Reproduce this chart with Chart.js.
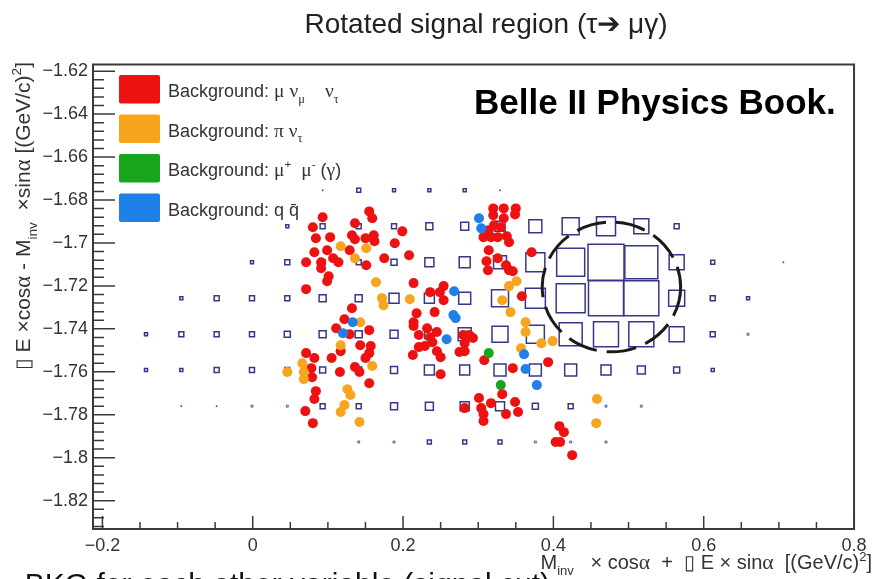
<!DOCTYPE html>
<html>
<head>
<meta charset="utf-8">
<script src="https://cdn.jsdelivr.net/npm/chart.js@4.4.1/dist/chart.umd.min.js"></script>
<style>
html, body { margin: 0; padding: 0; background: #fff; }
#c { display: block; }
</style>
</head>
<body>
<canvas id="c" width="881" height="579"></canvas>
<script>
// axis ticks (ROOT style labels)
const xTicks = [-0.2, 0, 0.2, 0.4, 0.6, 0.8];
const yTicks = [-1.62, -1.64, -1.66, -1.68, -1.7, -1.72, -1.74, -1.76, -1.78, -1.8, -1.82];

// 2D histogram bins (box option): bin centres and contents per row
const xBinCenters = [-0.142, -0.095, -0.048, -0.001, 0.046, 0.093, 0.141, 0.188, 0.235, 0.282,
                     0.329, 0.376, 0.423, 0.470, 0.517, 0.564, 0.612, 0.659, 0.706];
const yBinCenters = [-1.6755, -1.6922, -1.7090, -1.7257, -1.7425, -1.7592, -1.7760, -1.7927];
const binRow0 = [0, 0, 0, 0, 0, 0.08, 1.2, 0.7, 0.7, 0.7, 0.08, 0, 0, 0, 0, 0, 0, 0, 0];
const binRow1 = [0, 0, 0, 0, 0.7, 1.9, 1.9, 1.9, 3.8, 4.9, 7.7, 13, 22.3, 27.9, 17.4, 1.9, 0, 0, 0];
const binRow2 = [0, 0, 0, 0.7, 1.9, 1.9, 1.9, 2.8, 6.3, 9.3, 13, 27.9, 60.5, 100, 84, 17.4, 1.2, 0, 0.08];
const binRow3 = [0, 0.7, 1.9, 1.9, 1.9, 3.8, 3.8, 7.7, 7.7, 11.1, 22.3, 30.9, 64.9, 94.5, 94.5, 19.8, 1.9, 0.7, 0];
const binRow4 = [0.7, 1.9, 1.9, 1.9, 2.8, 3.8, 3.8, 4.9, 6.3, 13, 19.8, 25, 40.8, 48.2, 48.2, 17.4, 1.9, 0.3, 0];
const binRow5 = [0.7, 0.7, 1.9, 1.9, 1.9, 2.8, 2.8, 3.8, 7.7, 7.7, 11.1, 11.1, 11.1, 7.7, 4.9, 2.8, 0.7, 0, 0];
const binRow6 = [0, 0.08, 0.08, 0.3, 0.3, 1.9, 1.9, 3.8, 4.9, 6.3, 6.3, 2.8, 1.9, 0.3, 0.3, 0, 0, 0, 0];
const binRow7 = [0, 0, 0, 0, 0, 0, 0.3, 0.3, 1.2, 1.2, 1.2, 0.3, 0.3, 0.3, 0, 0, 0, 0, 0];
const binRows = [binRow0, binRow1, binRow2, binRow3, binRow4, binRow5, binRow6, binRow7];

// background events
const muNuNuX = [0.093, 0.080, 0.084, 0.103, 0.082, 0.099, 0.071, 0.091, 0.091, 0.107, 0.114, 0.101, 0.099, 0.071,
  0.122, 0.111, 0.117, 0.071, 0.082, 0.105, 0.078, 0.079, 0.116, 0.084, 0.082, 0.070, 0.080,
  0.155, 0.159, 0.136, 0.132, 0.136, 0.150, 0.161, 0.162, 0.199, 0.189, 0.129, 0.151, 0.175, 0.208,
  0.132, 0.155, 0.143, 0.157, 0.155, 0.150, 0.136, 0.142, 0.155, 0.129,
  0.214, 0.254, 0.249, 0.236, 0.254, 0.242, 0.218, 0.214, 0.214, 0.232, 0.221, 0.245, 0.236, 0.229,
  0.221, 0.239, 0.213, 0.245, 0.250, 0.280, 0.288, 0.293, 0.282, 0.282, 0.275, 0.250, 0.282,
  0.320, 0.334, 0.350, 0.320, 0.334, 0.349, 0.321, 0.330, 0.314, 0.307, 0.317, 0.326, 0.338, 0.341,
  0.314, 0.326, 0.311, 0.313, 0.337, 0.341, 0.346, 0.371, 0.358, 0.393, 0.346, 0.308,
  0.332, 0.301, 0.317, 0.304, 0.307, 0.307, 0.337, 0.349, 0.353,
  0.408, 0.414, 0.403, 0.409, 0.425];
const muNuNuY = [-1.6880, -1.6927, -1.6978, -1.6973, -1.7043, -1.7034, -1.7090, -1.7090, -1.7118, -1.7071, -1.7090, -1.7155, -1.7178, -1.7215,
  -1.7355, -1.7397, -1.7504, -1.7513, -1.7536, -1.7536, -1.7583, -1.7625, -1.7601, -1.7690, -1.7727, -1.7783, -1.7839,
  -1.6853, -1.6885, -1.6908, -1.6964, -1.6983, -1.6978, -1.6964, -1.6992, -1.6946, -1.7001, -1.7034, -1.7104, -1.7071, -1.7057,
  -1.7304, -1.7406, -1.7476, -1.7480, -1.7513, -1.7536, -1.7578, -1.7601, -1.7653, -1.7425,
  -1.7187, -1.7201, -1.7229, -1.7229, -1.7267, -1.7322, -1.7327, -1.7369, -1.7387, -1.7397, -1.7429, -1.7415, -1.7439, -1.7480,
  -1.7485, -1.7462, -1.7522, -1.7504, -1.7532, -1.7429, -1.7429, -1.7443, -1.7467, -1.7504, -1.7508, -1.7611, -1.7769,
  -1.6839, -1.6839, -1.6839, -1.6871, -1.6885, -1.6867, -1.6918, -1.6927, -1.6941, -1.6973, -1.6973, -1.6973, -1.6969, -1.6997,
  -1.7034, -1.7071, -1.7085, -1.7127, -1.7104, -1.7127, -1.7132, -1.7043, -1.7248, -1.7555, -1.7583, -1.7546,
  -1.7704, -1.7722, -1.7746, -1.7769, -1.7797, -1.7829, -1.7797, -1.7741, -1.7787,
  -1.7853, -1.7881, -1.7927, -1.7927, -1.7988];

const piNuX = [0.117, 0.151, 0.136, 0.164, 0.172, 0.174, 0.209, 0.143, 0.117, 0.159, 0.126, 0.130, 0.122, 0.117, 0.142,
  0.046, 0.066, 0.068, 0.068, 0.341, 0.351, 0.332, 0.343, 0.363, 0.363, 0.384, 0.399, 0.357, 0.458, 0.457];
const piNuY = [-1.7015, -1.7025, -1.7071, -1.7183, -1.7257, -1.7290, -1.7262, -1.7369, -1.7476, -1.7573, -1.7681, -1.7708, -1.7755, -1.7787, -1.7834,
  -1.7601, -1.7560, -1.7601, -1.7634, -1.7201, -1.7178, -1.7267, -1.7322, -1.7369, -1.7415, -1.7467, -1.7457, -1.7490, -1.7727, -1.7839];

const mumuX = [0.314, 0.330];
const mumuY = [-1.7513, -1.7662];

const qqX = [0.301, 0.304, 0.268, 0.267, 0.270, 0.258, 0.133, 0.120, 0.361, 0.363, 0.378];
const qqY = [-1.6885, -1.6932, -1.7225, -1.7336, -1.7350, -1.7448, -1.7369, -1.7420, -1.7518, -1.7587, -1.7662];

// legend entries (_ subscript, ^ superscript)
const legendLabels = ['Background: μ ν_{μ}    ν_{τ}', 'Background: π ν_{τ}', 'Background: μ^{+}  μ^{-} (γ)', 'Background: q q\u0304'];
const legendColors = ['#ee1111', '#f7a51e', '#16a51c', '#1f80ea'];

// signal region ellipse (data units)
const signalCenter = [0.4772, -1.7205];
const signalRadius = [0.0921, 0.0302];

const plotTitle = 'Rotated signal region (τ\u2794 μγ)';
const xTitle = 'M_{inv}   × cosα  +  \u25AF E × sinα  [(GeV/c)^{2}]';
const yTitle = '\u25AF E ×cosα - M_{inv}  ×sinα [(GeV/c)^{2}]';

Chart.defaults.font.family = '"Liberation Sans", Arial, sans-serif';

const boxData = [];
binRows.forEach((row, j) => {
  row.forEach((c, i) => { if (c > 0) boxData.push({x: xBinCenters[i], y: yBinCenters[j], c: c}); });
});
const maxBoxSide = 36;
function boxSide(c) { return maxBoxSide * Math.sqrt(c / 100); }

function toPoints(xs, ys) { return xs.map((x, i) => ({x: x, y: ys[i]})); }

// tiny rich text helper for sub/superscripts
function parseRich(str) {
  const segs = [];
  let i = 0;
  while (i < str.length) {
    const c = str[i];
    if ((c === '_' || c === '^') && i + 1 < str.length) {
      const mode = c === '_' ? -1 : 1;
      i++;
      let txt;
      if (str[i] === '{') { const j = str.indexOf('}', i); txt = str.slice(i + 1, j); i = j + 1; }
      else { txt = str[i]; i++; }
      for (const ch of txt) segs.push({ch: ch, mode: mode});
      continue;
    }
    if (/[\u0300-\u036f]/.test(c) && segs.length) segs[segs.length - 1].ch += c;
    else segs.push({ch: c, mode: 0});
    i++;
  }
  return segs;
}
function richFont(seg, size) {
  let s = seg.mode ? size * 0.65 : size;
  const greek = /[\u0370-\u03ff]/.test(seg.ch);
  if (greek) s *= 1.08;
  const fam = greek ? '"Liberation Serif", serif' : '"Liberation Sans", sans-serif';
  return s.toFixed(1) + 'px ' + fam;
}
function drawRich(ctx, str, x, y, size, align) {
  const segs = parseRich(str);
  let w = 0;
  segs.forEach(s => { ctx.font = richFont(s, size); s.w = ctx.measureText(s.ch).width; w += s.w; });
  let cx = align === 'right' ? x - w : (align === 'center' ? x - w / 2 : x);
  ctx.textAlign = 'left';
  ctx.textBaseline = 'alphabetic';
  segs.forEach(s => {
    ctx.font = richFont(s, size);
    const dy = s.mode < 0 ? size * 0.32 : (s.mode > 0 ? -size * 0.42 : 0);
    ctx.fillText(s.ch, cx, y + dy);
    cx += s.w;
  });
}

const rootStyle = {
  id: 'rootStyle',
  beforeDraw(chart) {
    const ctx = chart.ctx;
    ctx.save();
    ctx.fillStyle = '#fff';
    ctx.fillRect(0, 0, chart.width, chart.height);
    ctx.restore();
  },
  afterDraw(chart) {
    const {ctx, chartArea: a} = chart;
    const xs = chart.scales.x, ys = chart.scales.y;
    ctx.save();

    // dashed signal region
    const cx = xs.getPixelForValue(signalCenter[0]);
    const cy = ys.getPixelForValue(signalCenter[1]);
    const rx = Math.abs(xs.getPixelForValue(signalCenter[0] + signalRadius[0]) - cx);
    const ry = Math.abs(ys.getPixelForValue(signalCenter[1] + signalRadius[1]) - cy);
    ctx.strokeStyle = '#1a1a1a';
    ctx.lineWidth = 3;
    ctx.setLineDash([30, 10]);
    ctx.beginPath();
    ctx.ellipse(cx, cy, rx, ry, 0, 0, Math.PI * 2);
    ctx.stroke();
    ctx.setLineDash([]);

    // frame
    ctx.strokeStyle = '#3a3a3a';
    ctx.lineWidth = 2;
    ctx.strokeRect(a.left, a.top, a.right - a.left, a.bottom - a.top);

    // inward ticks
    ctx.lineWidth = 1.5;
    ctx.beginPath();
    for (let k = 0; k <= 20; k++) {
      const px = xs.getPixelForValue(-0.2 + k * 0.05);
      const len = k % 4 === 0 ? 13 : 7;
      ctx.moveTo(px, a.bottom); ctx.lineTo(px, a.bottom - len);
    }
    for (let k = -1; k <= 54; k++) {
      const py = ys.getPixelForValue(-1.62 - k * 0.004);
      if (py < a.top || py > a.bottom) continue;
      const len = ((k % 5) + 5) % 5 === 0 ? 22 : 11;
      ctx.moveTo(a.left, py); ctx.lineTo(a.left + len, py);
    }
    ctx.stroke();

    // title
    ctx.fillStyle = '#222';
    ctx.font = '28px "Liberation Sans", sans-serif';
    ctx.textAlign = 'center';
    ctx.textBaseline = 'alphabetic';
    ctx.fillText(plotTitle, 486, 33);

    // legend
    legendLabels.forEach((lab, k) => {
      const top = 75 + k * 39.5;
      ctx.fillStyle = legendColors[k];
      ctx.beginPath();
      ctx.roundRect(119, top, 41, 28.5, 2);
      ctx.fill();
      ctx.fillStyle = '#333';
      drawRich(ctx, lab, 168, top + 22, 18, 'left');
    });

    // experiment label
    ctx.fillStyle = '#000';
    ctx.font = 'bold 35px "Liberation Sans", sans-serif';
    ctx.textAlign = 'left';
    ctx.textBaseline = 'alphabetic';
    ctx.fillText('Belle II Physics Book.', 474, 114);

    // slide text cut by the bottom edge
    ctx.fillStyle = '#111';
    ctx.font = '30px "Liberation Sans", sans-serif';
    ctx.textAlign = 'left';
    ctx.fillText('\u2022 BKG for each other variable (signal cut)', 6, 594);

    // axis titles
    ctx.fillStyle = '#333';
    drawRich(ctx, xTitle, 872, 569, 20, 'right');
    ctx.save();
    ctx.translate(30, 62);
    ctx.rotate(-Math.PI / 2);
    drawRich(ctx, yTitle, 0, 0, 21, 'right');
    ctx.restore();

    ctx.restore();
  }
};

const fmt = v => String(v).replace('-', '\u2212');

new Chart(document.getElementById('c'), {
  type: 'scatter',
  data: {
    datasets: [
      { label: 'q qbar', data: toPoints(qqX, qqY), backgroundColor: legendColors[3], pointRadius: 5, borderWidth: 0, order: 1 },
      { label: 'mu mu (gamma)', data: toPoints(mumuX, mumuY), backgroundColor: legendColors[2], pointRadius: 5, borderWidth: 0, order: 2 },
      { label: 'pi nu', data: toPoints(piNuX, piNuY), backgroundColor: legendColors[1], pointRadius: 5, borderWidth: 0, order: 3 },
      { label: 'mu nu nu', data: toPoints(muNuNuX, muNuNuY), backgroundColor: legendColors[0], pointRadius: 5, borderWidth: 0, order: 4 },
      {
        label: 'signal',
        data: boxData,
        pointStyle: 'rect',
        backgroundColor: 'rgba(0,0,0,0)',
        borderColor: '#36368a',
        borderWidth: ctx => (ctx.raw && boxSide(ctx.raw.c) < 2 ? 0.8 : 1.5),
        pointRadius: ctx => (ctx.raw ? boxSide(ctx.raw.c) / Math.SQRT2 : 3),
        order: 5
      }
    ]
  },
  options: {
    responsive: false,
    animation: false,
    devicePixelRatio: 1,
    events: [],
    layout: { padding: { left: 0, right: 19, top: 64.5, bottom: 0 } },
    plugins: {
      legend: { display: false },
      tooltip: { enabled: false },
      title: { display: false }
    },
    scales: {
      x: {
        type: 'linear',
        min: -0.2125,
        max: 0.8,
        grid: { display: false, drawTicks: false },
        border: { display: false },
        ticks: { color: '#333', font: { size: 18 }, padding: 6, callback: fmt, maxRotation: 0 },
        afterBuildTicks: s => { s.ticks = xTicks.map(v => ({value: v})); },
        afterFit: s => { s.height = 50; }
      },
      y: {
        type: 'linear',
        min: -1.8332,
        max: -1.6169,
        grid: { display: false, drawTicks: false },
        border: { display: false },
        ticks: { color: '#333', font: { size: 18 }, padding: 5, callback: fmt },
        afterBuildTicks: s => { s.ticks = yTicks.map(v => ({value: v})); },
        afterFit: s => { s.width = 93; }
      }
    }
  },
  plugins: [rootStyle]
});
</script>
</body>
</html>
